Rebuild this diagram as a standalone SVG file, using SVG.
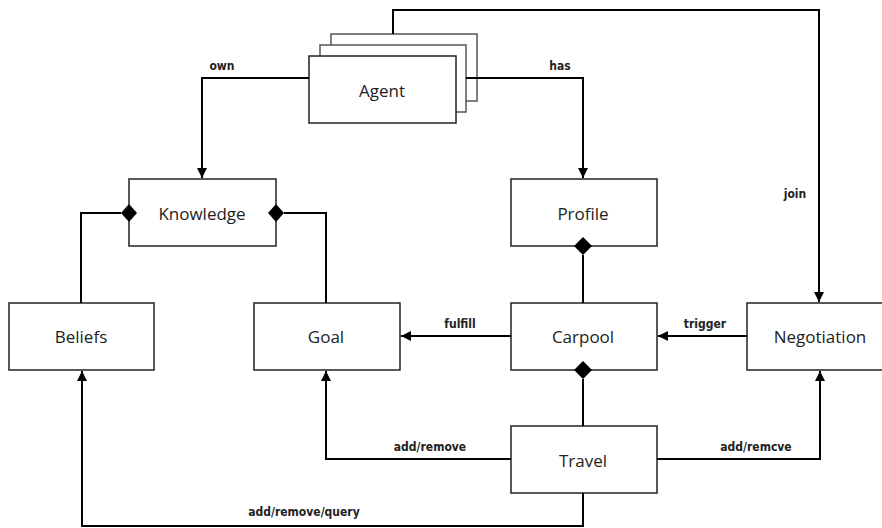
<svg xmlns="http://www.w3.org/2000/svg" width="882" height="528" viewBox="0 0 882 528">
<style>
.box{fill:#fff;stroke:#222;stroke-width:1.5}
.sbox{fill:#fff;stroke:#555;stroke-width:1.5}
.lbl{font-family:"Open Sans","Liberation Sans",sans-serif;font-size:17px;fill:#222;text-anchor:middle;dominant-baseline:central}
.el{font-family:"DejaVu Sans Condensed","DejaVu Sans",sans-serif;font-size:12px;font-weight:bold;fill:#222;text-anchor:middle}
.ln{fill:none;stroke:#000;stroke-width:2}
.dia{fill:#000}
</style>
<defs>
<marker id="arr" viewBox="0 0 10 10" refX="10" refY="5" markerWidth="10" markerHeight="10" markerUnits="userSpaceOnUse" orient="auto">
<path d="M0,0 L10,5 L0,10 Z" fill="#000"/>
</marker>
</defs>
<rect width="882" height="528" fill="#fff"/>
<g id="agent">
<rect class="sbox" x="331" y="34" width="146" height="67"/>
<rect class="sbox" x="320" y="45" width="146" height="67"/>
<rect class="box" x="309" y="56" width="147" height="67"/>
<text class="lbl" x="382" y="90">Agent</text>
</g>
<g id="knowledge">
<rect class="box" x="129" y="179" width="147" height="67"/>
<text class="lbl" x="202" y="213">Knowledge</text>
</g>
<g id="profile">
<rect class="box" x="511" y="179" width="146" height="67"/>
<text class="lbl" x="583" y="213">Profile</text>
</g>
<g id="beliefs">
<rect class="box" x="9" y="303" width="145" height="67"/>
<text class="lbl" x="81" y="336">Beliefs</text>
</g>
<g id="goal">
<rect class="box" x="254" y="303" width="146" height="67"/>
<text class="lbl" x="326" y="336">Goal</text>
</g>
<g id="carpool">
<rect class="box" x="511" y="303" width="146" height="67"/>
<text class="lbl" x="583" y="336">Carpool</text>
</g>
<g id="negotiation">
<rect class="box" x="747" y="303" width="146" height="67"/>
<text class="lbl" x="820" y="336">Negotiation</text>
</g>
<g id="travel">
<rect class="box" x="511" y="426" width="146" height="67"/>
<text class="lbl" x="583" y="460">Travel</text>
</g>
<g id="connectors">
<polyline class="ln" points="393,34 393,10 819,10 819,302" marker-end="url(#arr)"/>
<polyline class="ln" points="309,78 202,78 202,178" marker-end="url(#arr)"/>
<polyline class="ln" points="466,78 583,78 583,178" marker-end="url(#arr)"/>
<polyline class="ln" points="121,213 81,213 81,303"/>
<polyline class="ln" points="284,213 326,213 326,303"/>
<polyline class="ln" points="583,255 583,303"/>
<line class="ln" x1="511" y1="336" x2="401" y2="336" marker-end="url(#arr)"/>
<line class="ln" x1="747" y1="336" x2="658" y2="336" marker-end="url(#arr)"/>
<polyline class="ln" points="583,379 583,426"/>
<polyline class="ln" points="511,459 326,459 326,371" marker-end="url(#arr)"/>
<polyline class="ln" points="657,459 820,459 820,371" marker-end="url(#arr)"/>
<polyline class="ln" points="583,493 583,526 82,526 82,371" marker-end="url(#arr)"/>
<path class="dia" d="M129,204 L137,213 L129,222 L121,213 Z"/>
<path class="dia" d="M276,204 L284,213 L276,222 L268,213 Z"/>
<path class="dia" d="M583,237 L592,246 L583,255 L574,246 Z"/>
<path class="dia" d="M583,361 L592,370 L583,379 L574,370 Z"/>
<text class="el" x="222" y="70">own</text>
<text class="el" x="560" y="70">has</text>
<text class="el" x="795" y="198">join</text>
<text class="el" x="460" y="328">fulfill</text>
<text class="el" x="705" y="328">trigger</text>
<text class="el" x="430" y="451">add/remove</text>
<text class="el" x="756" y="451">add/remcve</text>
<text class="el" x="304" y="516">add/remove/query</text>
</g>
</svg>
